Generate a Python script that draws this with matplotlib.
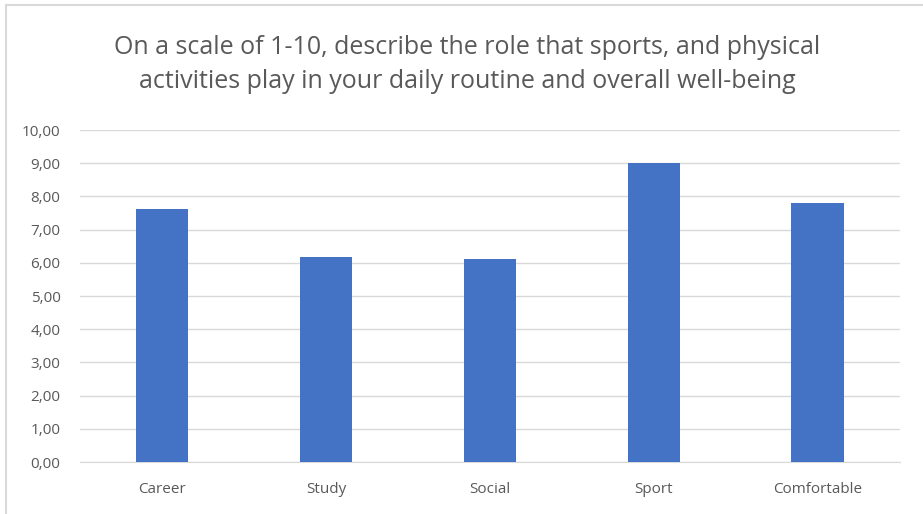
import matplotlib.pyplot as plt
from matplotlib.lines import Line2D

# Datos
categorias = ['Career', 'Study', 'Social', 'Sport', 'Comfortable']
valores = [7.61, 6.17, 6.12, 9.00, 7.79]
ticks_y = [0, 1, 2, 3, 4, 5, 6, 7, 8, 9, 10]

plt.rcParams['font.family'] = ['Open Sans', 'DejaVu Sans']
gris = '#595959'

fig = plt.figure(figsize=(9.23, 5.14), dpi=100)
ax = fig.add_axes([0.0867, 0.101, 0.888, 0.646])

x = range(len(categorias))
ax.bar(x, valores, width=0.32, color='#4472C4', zorder=3)

ax.set_xlim(-0.5, len(categorias) - 0.5)
ax.set_ylim(0, 10)
ax.set_yticks(ticks_y)
ax.set_yticklabels([f'{v:.2f}'.replace('.', ',') for v in ticks_y])
ax.set_xticks(list(x))
ax.set_xticklabels(categorias)
ax.tick_params(axis='both', length=0, labelsize=11, labelcolor=gris)
ax.tick_params(axis='x', pad=14)
ax.tick_params(axis='y', pad=14)
ax.grid(axis='y', color='#D9D9D9', linewidth=1, zorder=0)
for lado in ['top', 'right', 'left']:
    ax.spines[lado].set_visible(False)
ax.spines['bottom'].set_color('#D9D9D9')

fig.text(0.506, 0.875,
         'On a scale of 1-10, describe the role that sports, and physical\n'
         'activities play in your daily routine and overall well-being',
         ha='center', va='center', fontsize=18, color=gris, linespacing=1.45)

# Marco del gráfico (solo se ven los bordes izquierdo y superior)
fig.add_artist(Line2D([0.0065, 0.0065], [0, 0.99], transform=fig.transFigure,
                      color='#D9D9D9', linewidth=1.5))
fig.add_artist(Line2D([0.0065, 1.0], [0.99, 0.99], transform=fig.transFigure,
                      color='#D9D9D9', linewidth=1.5))

fig.savefig('out.png', dpi=100)
